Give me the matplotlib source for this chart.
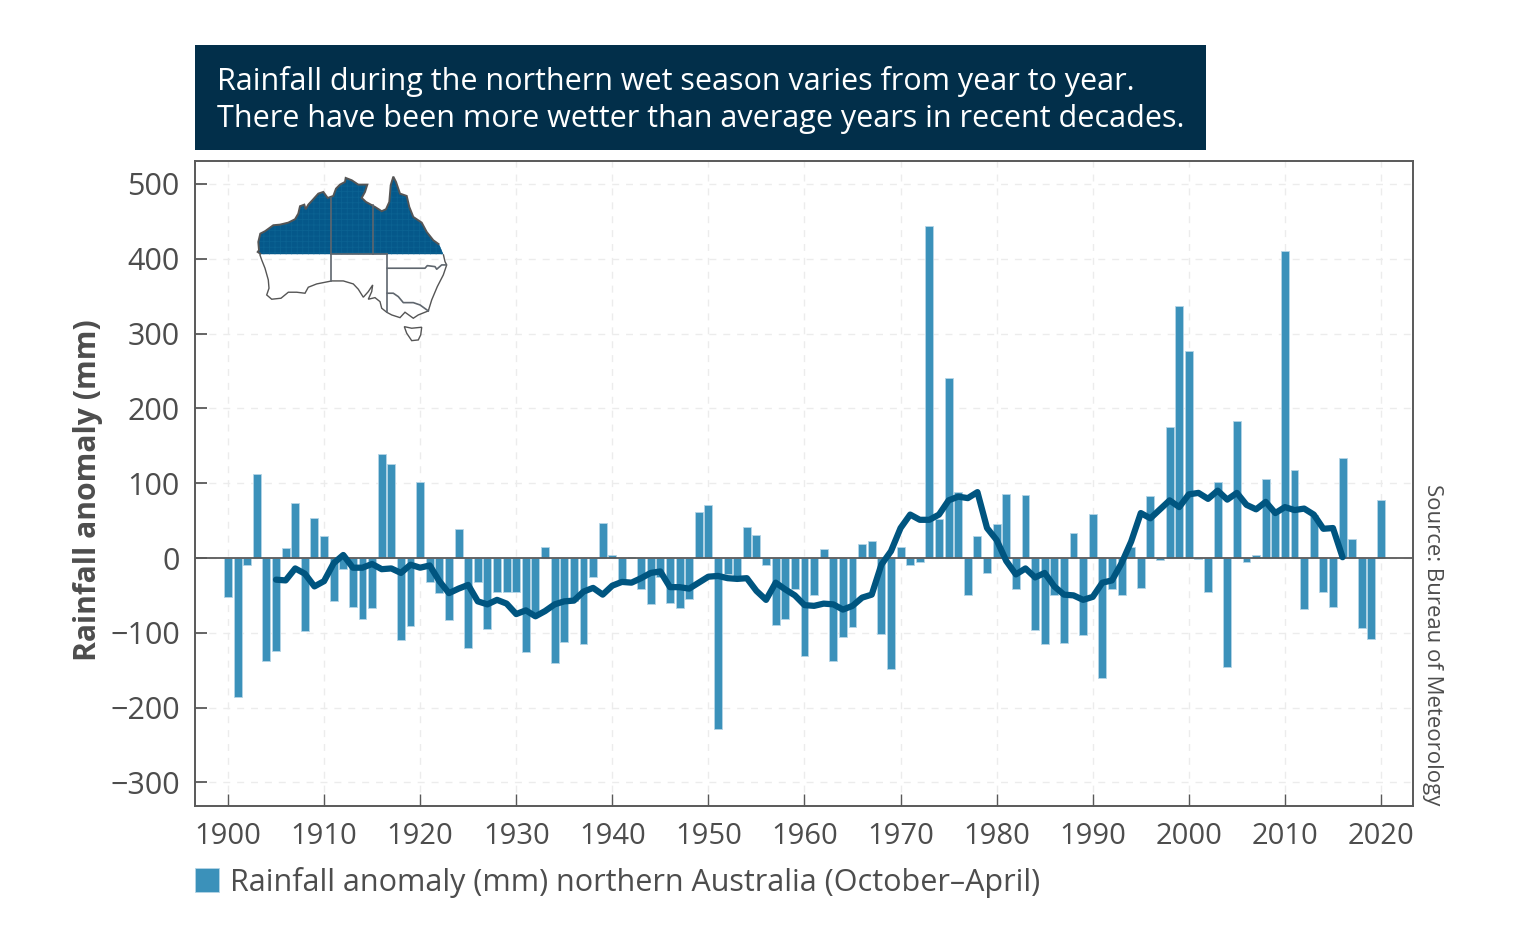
#!/usr/bin/env python3

# Northern wet season rainfall anomaly chart.

import matplotlib
matplotlib.use("Agg")
import matplotlib.pyplot as plt
from matplotlib.patches import Polygon, Rectangle

plt.rcParams["font.family"] = ["Open Sans", "DejaVu Sans"]
plt.rcParams["hatch.linewidth"] = 0.6

W, H = 1536, 945

TITLE_LINES = [
    "Rainfall during the northern wet season varies from year to year.",
    "There have been more wetter than average years in recent decades.",
]
Y_LABEL = "Rainfall anomaly (mm)"
LEGEND_LABEL = "Rainfall anomaly (mm) northern Australia (October\u2013April)"
SOURCE = "Source: Bureau of Meteorology"

years = list(range(1900, 2021))
anomaly = [
    -52, -186, -10, 112, -138, -125, 13, 73, -97, 54,
    30, -58, -15, -66, -82, -67, 139, 125, -110, -91,
    102, -32, -47, -83, 39, -120, -32, -95, -46, -46,
    -45, -126, -76, 15, -141, -112, -58, -115, -25, 47,
    4, -31, 1, -41, -61, -26, -60, -67, -55, 61,
    71, -229, -22, -24, 41, 31, -9, -90, -81, -42,
    -131, -50, 12, -138, -106, -92, 19, 23, -102, -149,
    15, -9, -6, 444, 52, 241, 88, -50, 29, -20,
    45, 86, -42, 84, -96, -115, -50, -113, 34, -103,
    59, -160, -42, -50, 15, -40, 83, -3, 175, 337,
    276, -1, -45, 102, -146, 183, -5, 4, 106, 60,
    410, 117, -68, 58, -46, -65, 133, 25, -93, -108,
    78,
]

avg_years = list(range(1905, 2017))
running_avg = [
    -29, -30, -14, -21, -38, -31, -7, 4, -13, -13,
    -8, -15, -14, -20, -9, -13, -10, -31, -47, -41,
    -36, -58, -62, -56, -61, -75, -70, -78, -71, -62,
    -58, -57, -45, -40, -49, -37, -32, -33, -27, -20,
    -18, -39, -39, -41, -33, -25, -24, -27, -28, -27,
    -44, -56, -33, -42, -50, -63, -64, -61, -62, -69,
    -64, -53, -49, -9, 9, 40, 58, 51, 51, 58,
    77, 82, 80, 88, 40, 24, -4, -22, -14, -26,
    -20, -38, -49, -50, -56, -52, -33, -30, -7, 22,
    60, 53, 65, 77, 68, 85, 87, 79, 90, 78,
    87, 71, 65, 75, 60, 68, 64, 66, 58, 39,
    40, 1,
]

x_ticks = list(range(1900, 2021, 10))
y_ticks = list(range(-300, 501, 100))

# Map outline, traced in pixels of the reference
map_north = [
    (261, 254.3), (257.7, 252), (259, 250.3), (258.3, 242), (260.3, 233.7),
    (265, 231.3), (273.3, 225.3), (280, 224.7), (288.3, 222.7), (295, 219.3),
    (298.3, 213.7), (300, 206.3), (304.3, 204.7), (305.7, 209.3),
    (308.3, 204.7), (313.3, 199.3), (318.3, 193.7), (323.3, 192), (327.7, 198),
    (333.3, 196), (336, 188.7), (340, 184.7), (345, 182), (345.7, 178),
    (351.7, 180.3), (358.3, 184.7), (367.3, 184.7), (365, 192), (361.7, 198),
    (366, 202), (375, 207), (381.7, 211.3), (386, 209.3), (389.3, 202),
    (390.7, 185.3), (393.3, 176.7), (396, 182), (400, 193.7), (406.7, 196),
    (409.3, 207), (413.3, 217), (421.7, 222.7), (426.7, 232), (433.3, 240.3),
    (439.3, 244.7), (443.3, 254.3),
]
map_south = [
    (443.3, 254.3), (445, 261.7), (446.7, 265), (443.3, 275), (437.3, 286.7),
    (431.7, 300), (428.3, 311), (418.3, 315), (413.3, 318.3), (405, 312.3),
    (400, 317.7), (391.7, 315), (386.7, 312.3), (381.7, 308.3), (380, 301.7),
    (375, 297.7), (368.3, 299.3), (371.7, 291.7), (372.7, 285), (368.3, 291.7),
    (363.3, 297.3), (358.3, 289.3), (353.3, 284), (343.3, 281), (331.7, 281),
    (316.7, 284), (308.3, 287.3), (305, 293.3), (296.7, 292.3), (288.3, 292.3),
    (281, 298.3), (271.7, 299.3), (266.7, 295), (269, 288.3), (268.3, 280),
    (265, 268.3), (261.7, 260), (259.7, 254.3),
]
map_tasmania = [
    (404.3, 326.7), (411.7, 328.3), (421.7, 327.3), (420.7, 335), (418.3, 340),
    (411.7, 340.7), (406.7, 333.3),
]
map_borders = [
    [(331, 198), (331, 281)],
    [(372.7, 205), (372.7, 254)],
    [(331, 253.7), (386.7, 253.7)],
    [(386.7, 253.7), (386.7, 312.3)],
    [(387.3, 268.3), (425, 268.3), (427.3, 265.7), (435, 266.7), (436.7, 269.3),
     (441.7, 265), (446, 265)],
    [(387.3, 293.3), (393.3, 293.3), (398.3, 296.7), (403.3, 302.7),
     (413.3, 302.7), (420, 305), (428.3, 311)],
]

BAR_COLOUR = "#3b91ba"
BAR_EDGE = "#b5d5e6"
LINE_COLOUR = "#005580"
BOX_COLOUR = "#022f4a"
TEXT_COLOUR = "#4d4d4d"
AXIS_COLOUR = "#595959"
GRID_COLOUR = "#ececec"
MAP_FILL = "#05588a"
MAP_HATCH = "#0b6292"
MAP_EDGE = "#555555"


# Turn a pixel box of the reference into figure fractions.
def fig_box(left, top, right, bottom):
    return [left / W, 1 - bottom / H, (right - left) / W, (bottom - top) / H]


# The extra tenth of a pixel stops the canvas being rounded down to 944 rows.
fig = plt.figure(figsize=(W / 100, (H + 0.1) / 100), dpi=100, facecolor="white")

ax = fig.add_axes(fig_box(195, 161, 1413, 806))
ax.set_xlim(1896.57, 2023.33)
ax.set_ylim(-331.5, 530.7)

ax.grid(True, color=GRID_COLOUR, linestyle=(0, (5, 5)), linewidth=1.0)
ax.set_axisbelow(True)

ax.bar(years, anomaly, width=0.82, color=BAR_COLOUR,
       edgecolor=BAR_EDGE, linewidth=0.6, zorder=2)
ax.axhline(0, color=AXIS_COLOUR, linewidth=1.3, zorder=3)
ax.plot(avg_years, running_avg, color=LINE_COLOUR, linewidth=4.5,
        solid_joinstyle="round", solid_capstyle="round", zorder=4)

ax.set_xticks(x_ticks)
ax.set_yticks(y_ticks)
ax.set_yticklabels([str(v).replace("-", "\u2212") for v in y_ticks])
ax.tick_params(axis="x", direction="in", length=8.5, width=1.0,
               color=AXIS_COLOUR, labelcolor=TEXT_COLOUR, labelsize=21, pad=11.5)
ax.tick_params(axis="y", direction="in", length=8.5, width=1.3,
               color=AXIS_COLOUR, labelcolor=TEXT_COLOUR, labelsize=22, pad=11)
for spine in ax.spines.values():
    spine.set_color(AXIS_COLOUR)
    spine.set_linewidth(1.4)

# Map inset
map_ax = fig.add_axes(fig_box(190, 150, 470, 360), zorder=5)
map_ax.set_xlim(190, 470)
map_ax.set_ylim(360, 150)
map_ax.axis("off")
map_ax.add_patch(Polygon(map_north, closed=True, facecolor=MAP_FILL,
                         edgecolor=MAP_HATCH, linewidth=0, hatch="+++"))
map_ax.add_patch(Polygon(map_north[:-1], closed=False, fill=False,
                         edgecolor=MAP_EDGE, linewidth=1.4))
map_ax.add_patch(Polygon(map_south, closed=False, fill=False,
                         edgecolor=MAP_EDGE, linewidth=1.0))
map_ax.add_patch(Polygon(map_tasmania, closed=True, facecolor="white",
                         edgecolor=MAP_EDGE, linewidth=1.0))
for border in map_borders:
    bx, by = zip(*border)
    map_ax.plot(bx, by, color="#5f666e", linewidth=1.2)

# Title box
fig.patches.append(Rectangle((195 / W, 1 - 150 / H), 1011 / W, 105 / H,
                             transform=fig.transFigure, facecolor=BOX_COLOUR,
                             edgecolor="none"))
fig.text(217 / W, 1 - 81 / H, TITLE_LINES[0], color="white", fontsize=22,
         va="center", ha="left")
fig.text(217 / W, 1 - 119 / H, TITLE_LINES[1], color="white", fontsize=22,
         va="center", ha="left")

fig.text(88 / W, 1 - 490 / H, Y_LABEL, color=TEXT_COLOUR, fontsize=21.7,
         fontweight="bold", rotation=90, va="center", ha="center")
fig.text(1433 / W, 1 - 645 / H, SOURCE, color=TEXT_COLOUR, fontsize=15.9,
         rotation=-90, va="center", ha="center")

# Legend
fig.patches.append(Rectangle((195 / W, 1 - 892 / H), 24 / W, 24 / H,
                             transform=fig.transFigure, facecolor=BAR_COLOUR,
                             edgecolor=BAR_EDGE, linewidth=0.6))
fig.text(230 / W, 1 - 882 / H, LEGEND_LABEL, color=TEXT_COLOUR, fontsize=22,
         va="center", ha="left")

fig.savefig("out.png", dpi=100)
